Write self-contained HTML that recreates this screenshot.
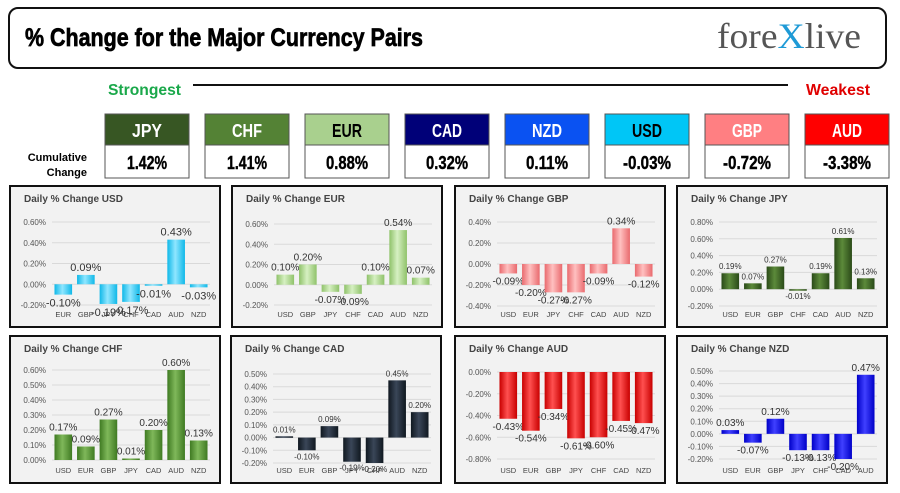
<!DOCTYPE html>
<html><head><meta charset="utf-8"><style>
html,body{margin:0;padding:0;background:#fff;width:900px;height:493px;overflow:hidden}
svg text{font-family:"Liberation Sans",sans-serif}
</style></head><body>
<svg id="s" width="900" height="493" viewBox="0 0 900 493" xmlns="http://www.w3.org/2000/svg">
<defs></defs>
<rect x="9" y="8" width="877" height="60" rx="9" fill="#fff" stroke="#111" stroke-width="2"/>
<text x="25" y="46" font-size="25" font-weight="bold" textLength="398" lengthAdjust="spacingAndGlyphs" fill="#000" stroke="#000" stroke-width="0.7">% Change for the Major Currency Pairs</text>
<g>
<text x="717" y="48" font-size="36" style="font-family:'Liberation Serif',serif" fill="#555" textLength="144" lengthAdjust="spacingAndGlyphs">fore<tspan fill="#1e9ad6">X</tspan>live</text>
</g>
<text x="108" y="95" font-size="16" font-weight="bold" fill="#1aa84a" textLength="73" lengthAdjust="spacingAndGlyphs">Strongest</text>
<line x1="193" y1="85" x2="788" y2="85" stroke="#111" stroke-width="2"/>
<text x="806" y="95" font-size="16" font-weight="bold" fill="#e00000" textLength="64" lengthAdjust="spacingAndGlyphs">Weakest</text>
<text x="87" y="161" font-size="11" font-weight="bold" text-anchor="end">Cumulative</text>
<text x="87" y="176" font-size="11" font-weight="bold" text-anchor="end">Change</text>
<g id="tiles"></g>
<g id="panels"></g>
</svg>
<script>
const NS='http://www.w3.org/2000/svg';
const tileNames=['JPY','CHF','EUR','CAD','NZD','USD','GBP','AUD'];
const tileValues=['1.42%','1.41%','0.88%','0.32%','0.11%','-0.03%','-0.72%','-3.38%'];
const tileColors=['#375623','#548235','#a9d08e','#000078','#0a52f2','#00c6f6','#ff7f82','#ff0000'];
const tileTextColors=['#fff','#fff','#000','#fff','#fff','#000','#fff','#fff'];

const cats=['USD','EUR','GBP','JPY','CHF','CAD','AUD','NZD'];
const usdVals=[-0.10,0.09,-0.19,-0.17,-0.01,0.43,-0.03];
const eurVals=[0.10,0.20,-0.07,-0.09,0.10,0.54,0.07];
const gbpVals=[-0.09,-0.20,-0.27,-0.27,-0.09,0.34,-0.12];
const jpyVals=[0.19,0.07,0.27,-0.01,0.19,0.61,0.13];
const chfVals=[0.17,0.09,0.27,0.01,0.20,0.60,0.13];
const cadVals=[0.01,-0.10,0.09,-0.19,-0.20,0.45,0.20];
const audVals=[-0.43,-0.54,-0.34,-0.61,-0.60,-0.45,-0.47];
const nzdVals=[0.03,-0.07,0.12,-0.13,-0.13,-0.20,0.47];

function mk(tag,attrs,parent){const e=document.createElementNS(NS,tag);for(const k in attrs)e.setAttribute(k,attrs[k]);parent.appendChild(e);return e;}

const tiles=document.getElementById('tiles');
tileNames.forEach((n,i)=>{
  const x=105+i*100;
  const g=mk('g',{},tiles);
  
  
  mk('rect',{x:x,y:114,width:84,height:31,fill:tileColors[i],stroke:'#555','stroke-width':1},g);
  mk('rect',{x:x,y:145,width:84,height:33,fill:'#fff',stroke:'#555','stroke-width':1},g);
  const t=mk('text',{x:x+42,y:137,'font-size':18,'font-weight':'bold','text-anchor':'middle',fill:tileTextColors[i],textLength:30,lengthAdjust:'spacingAndGlyphs'},g);
  t.textContent=n;
  const v=mk('text',{x:x+42,y:169,'font-size':18,'font-weight':'bold','text-anchor':'middle',fill:'#000',stroke:'#000','stroke-width':0.4,textLength:n==='JPY'||n==='CHF'?40:(tileValues[i].length>5?48:42),lengthAdjust:'spacingAndGlyphs'},g);
  v.textContent=tileValues[i];
});

const panels=[
 {b:'USD',x:10,y:186,w:210,h:141,vals:usdVals,min:-0.2,max:0.6,step:0.2,c1:'#8fe6ff',c2:'#0fb8e8',top:36,bot:119,lf:11},
 {b:'EUR',x:232,y:186,w:210,h:141,vals:eurVals,min:-0.2,max:0.6,step:0.2,c1:'#d6f0c2',c2:'#8fc26a',top:38,bot:119,lf:10},
 {b:'GBP',x:455,y:186,w:210,h:141,vals:gbpVals,min:-0.4,max:0.4,step:0.2,c1:'#ffc0c0',c2:'#e96a6e',top:36,bot:120,lf:10},
 {b:'JPY',x:677,y:186,w:210,h:141,vals:jpyVals,min:-0.2,max:0.8,step:0.2,c1:'#5c8a3a',c2:'#2a4a18',top:36,bot:120,lf:8},
 {b:'CHF',x:10,y:336,w:210,h:147,vals:chfVals,min:0,max:0.6,step:0.1,c1:'#7fb85a',c2:'#3f7a22',top:34,bot:124,lf:10},
 {b:'CAD',x:231,y:336,w:210,h:147,vals:cadVals,min:-0.2,max:0.5,step:0.1,c1:'#3a4658',c2:'#101820',top:38,bot:127,lf:8},
 {b:'AUD',x:455,y:336,w:210,h:147,vals:audVals,min:-0.8,max:0,step:0.2,c1:'#ff5050',c2:'#c80000',top:36,bot:123,lf:10},
 {b:'NZD',x:677,y:336,w:210,h:147,vals:nzdVals,min:-0.2,max:0.5,step:0.1,c1:'#4040ff',c2:'#0000c8',top:35,bot:123,lf:10}
];
const pg=document.getElementById('panels');
const defs=document.querySelector('defs');
panels.forEach((p,pi)=>{
  const lg=mk('linearGradient',{id:'g'+pi,x1:0,y1:0,x2:1,y2:0},defs);
  mk('stop',{offset:'0','stop-color':p.c2},lg);
  mk('stop',{offset:'0.45','stop-color':p.c1},lg);
  mk('stop',{offset:'1','stop-color':p.c2},lg);
  const g=mk('g',{},pg);
  
  
  mk('rect',{x:p.x,y:p.y,width:p.w,height:p.h,fill:'#f2f2f2',stroke:'#111','stroke-width':2},g);
  const t=mk('text',{x:p.x+14,y:p.y+16,'font-size':10,'font-weight':'bold',fill:'#444'},g);
  
  t.textContent='Daily % Change '+p.b;
  const yS=v=>p.y+p.bot-(v-p.min)/(p.max-p.min)*(p.bot-p.top);
  const left=p.x+42,width=158,n=p.vals.length,slot=width/n;
  const xS=i=>left+slot*(i+0.5);
  const nt=Math.round((p.max-p.min)/p.step);
  for(let k=0;k<=nt;k++){
    const v=p.min+k*p.step,y=yS(v);
    mk('line',{x1:left,x2:left+width,y1:y,y2:y,stroke:'#d9d9d9','stroke-width':1},g);
    const tl=mk('text',{x:left-6,y:y+3,'font-size':8,'text-anchor':'end',fill:'#555'},g);
    
    tl.textContent=v.toFixed(2)+'%';
  }
  const c=cats.filter(x=>x!==p.b);
  p.vals.forEach((v,i)=>{
    const y0=yS(0),y1=yS(v),bw=slot*0.78;
    const r=mk('rect',{x:xS(i)-bw/2,y:Math.min(y0,y1),width:bw,height:Math.max(1.5,Math.abs(y1-y0)),fill:'url(#g'+pi+')'},g);
    
    const lab=mk('text',{x:xS(i),y:v>=0?y1-4:y1+p.lf+1,'font-size':p.lf,'text-anchor':'middle',fill:'#333'},g);
    
    lab.textContent=v.toFixed(2)+'%';
    const cl=mk('text',{x:xS(i),y:p.y+p.h-10,'font-size':7.5,'text-anchor':'middle',fill:'#444'},g);
    
    cl.textContent=c[i];
  });
});
</script>
</body></html>
